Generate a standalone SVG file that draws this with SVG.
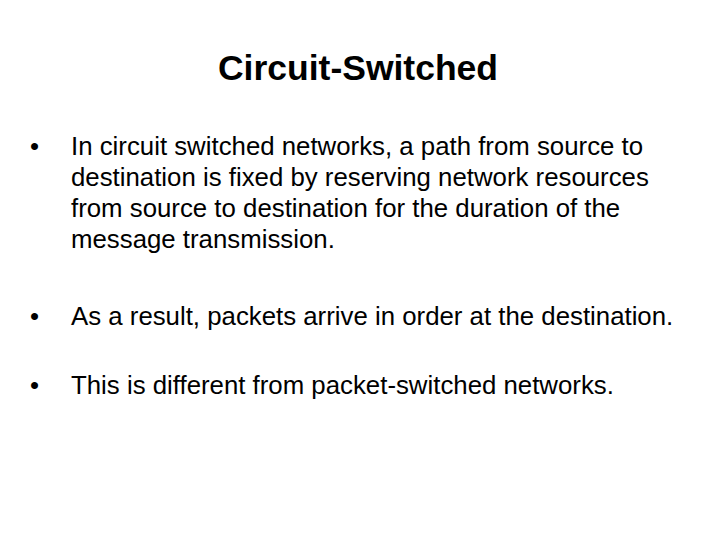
<svg xmlns="http://www.w3.org/2000/svg" width="720" height="540" viewBox="0 0 720 540">
<style>
.t{font-family:"Liberation Sans",Arial,sans-serif;fill:#000}
.b{font-size:25.8px}
</style>
<rect width="720" height="540" fill="#fff"/>
<g id="title"><text class="t" x="358" y="80" text-anchor="middle" font-size="35.5" font-weight="bold">Circuit-Switched</text></g>
<g id="bullet1" class="t b">
<text x="30" y="155">•</text>
<text x="71" y="155">In circuit switched networks, a path from source to</text>
<text x="71" y="186">destination is fixed by reserving network resources</text>
<text x="71" y="217">from source to destination for the duration of the</text>
<text x="71" y="248">message transmission.</text>
</g>
<g id="bullet2" class="t b">
<text x="30" y="325">•</text>
<text x="71" y="325">As a result, packets arrive in order at the destination.</text>
</g>
<g id="bullet3" class="t b">
<text x="30" y="394">•</text>
<text x="71" y="394">This is different from packet-switched networks.</text>
</g>
</svg>
